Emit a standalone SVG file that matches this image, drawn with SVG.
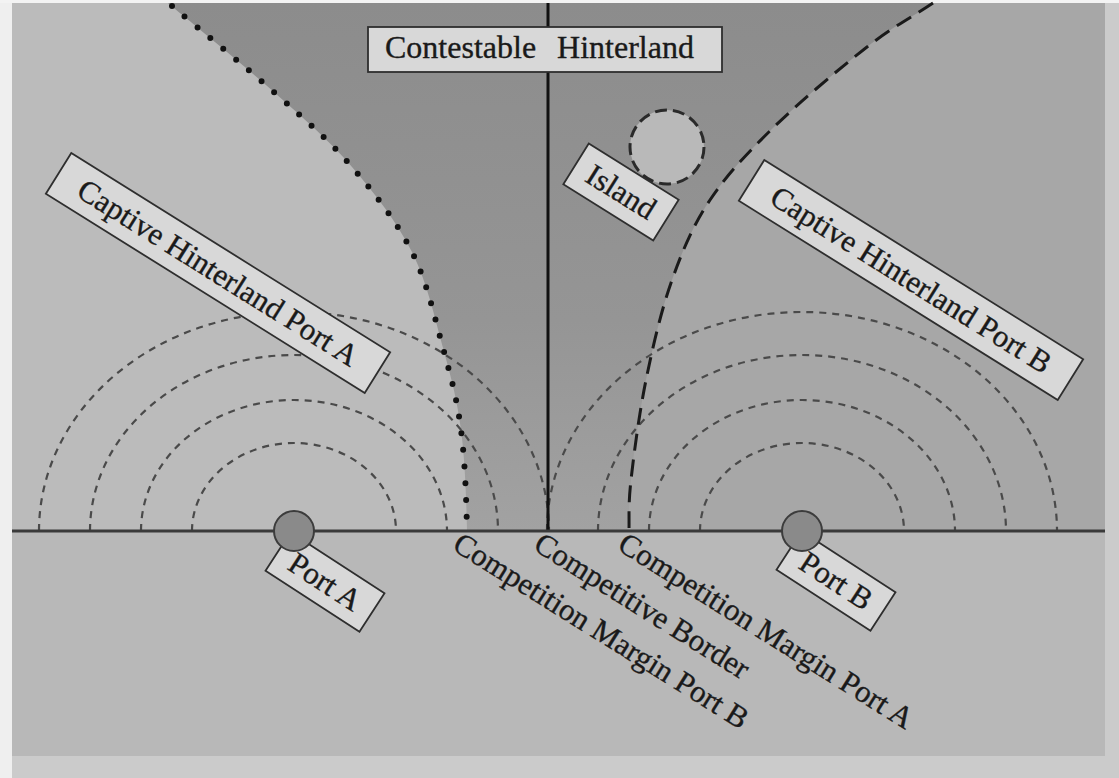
<svg xmlns="http://www.w3.org/2000/svg" width="1119" height="778" viewBox="0 0 1119 778">
<style>
.lbl{font-family:"Liberation Serif","Times New Roman",serif;font-size:31px;fill:#1a1a1a;stroke:#1a1a1a;stroke-width:0.35}
.box{fill:#d8d8d8;stroke:#2e2e2e;stroke-width:1.8}
.arc{fill:none;stroke:#4a4a4a;stroke-width:2.2;stroke-dasharray:7 6}
.port{fill:#8a8a8a;stroke:#3c3c3c;stroke-width:2}
</style>
<defs>
<linearGradient id="cg" x1="0" y1="0" x2="0" y2="1">
<stop offset="0" stop-color="#8c8c8c"/>
<stop offset="0.6" stop-color="#959595"/>
<stop offset="1" stop-color="#a2a2a2"/>
</linearGradient>
</defs>
<g id="background">
<rect x="0" y="0" width="1119" height="778" fill="#cbcbcb"/>
<rect x="0" y="0" width="12" height="778" fill="#efefef"/>
<rect x="0" y="0" width="1119" height="3" fill="#f3f3f3"/>
<rect x="12" y="3" width="1093" height="753" fill="#b8b8b8"/>
<rect x="12" y="3" width="536" height="528" fill="#bbbbbb"/>
<rect x="548" y="3" width="557" height="528" fill="#a7a7a7"/>
<path id="contestable" fill="url(#cg)" d="M168,3 C203.7,33 244.3,65.7 275,93 C305.7,120.3 329.2,140.5 352,167 C374.8,193.5 396.8,221.8 412,252 C427.2,282.2 434.8,318.3 443,348 C451.2,377.7 457,399.3 461,430 C465,460.7 466.3,498 467,531 L629,531 C629.3,514.7 628.2,505.3 631,480 C633.8,454.7 639.2,413.3 646,380 C652.8,346.7 661.3,310 672,280 C682.7,250 693,225.5 710,200 C727,174.5 747.8,152.5 774,127 C800.2,101.5 840.5,67.7 867,47 C893.5,26.3 911,17.7 933,3 Z"/>
</g>
<g id="connectors">
<g id="arcs-port-a">
<path class="arc" d="M192,531 A102,88 0 0 1 396,531"/>
<path class="arc" d="M141,531 A153,131 0 0 1 447,531"/>
<path class="arc" d="M90,531 A204,176 0 0 1 498,531"/>
<path class="arc" d="M39,531 A255,219 0 0 1 549,531"/>
</g>
<g id="arcs-port-b">
<path class="arc" d="M700,531 A102,88 0 0 1 904,531"/>
<path class="arc" d="M649,531 A153,131 0 0 1 955,531"/>
<path class="arc" d="M598,531 A204,176 0 0 1 1006,531"/>
<path class="arc" d="M547,531 A255,219 0 0 1 1057,531"/>
</g>
<path id="margin-port-b" fill="none" stroke="#111" stroke-width="6" stroke-linecap="round" stroke-dasharray="0 16.7" d="M172,6 C203.7,33 244.3,65.7 275,93 C305.7,120.3 329.2,140.5 352,167 C374.8,193.5 396.8,221.8 412,252 C427.2,282.2 434.8,318.3 443,348 C451.2,377.7 457,399.3 461,430 C465,460.7 466.3,498 467,531"/>
<path id="margin-port-a" fill="none" stroke="#1a1a1a" stroke-width="3" stroke-dasharray="17 9" d="M933,3 C911,17.7 893.5,26.3 867,47 C840.5,67.7 800.2,101.5 774,127 C747.8,152.5 727,174.5 710,200 C693,225.5 682.7,250 672,280 C661.3,310 652.8,346.7 646,380 C639.2,413.3 633.8,454.7 631,480 C628.2,505.3 629.3,514.7 629,531"/>
<line id="competitive-border" x1="548" y1="3" x2="548" y2="531" stroke="#111" stroke-width="3"/>
<line id="coast" x1="12" y1="531" x2="1105" y2="531" stroke="#3a3a3a" stroke-width="3"/>
</g>
<g id="island">
<circle cx="667" cy="147" r="37" fill="#b9b9b9" stroke="#2a2a2a" stroke-width="3" stroke-dasharray="12 6"/>
</g>
<g id="label-contestable">
<rect class="box" x="368" y="27" width="354" height="45"/>
<text class="lbl" x="385" y="58" style="font-size:32px" word-spacing="13">Contestable Hinterland</text>
</g>
<g id="label-captive-a" transform="translate(218,273) rotate(32)">
<rect class="box" x="-188" y="-24" width="376" height="48"/>
<text class="lbl" x="0" y="10" text-anchor="middle">Captive Hinterland Port A</text>
</g>
<g id="label-captive-b" transform="translate(911,280) rotate(32)">
<rect class="box" x="-188" y="-24" width="376" height="48"/>
<text class="lbl" x="0" y="10" text-anchor="middle">Captive Hinterland Port B</text>
</g>
<g id="label-island" transform="translate(621,192) rotate(32)">
<rect class="box" x="-53" y="-24" width="106" height="48"/>
<text class="lbl" x="0" y="10" text-anchor="middle">Island</text>
</g>
<g id="port-a">
<g transform="translate(325,582) rotate(33)">
<rect class="box" x="-56" y="-23" width="112" height="46"/>
<text class="lbl" x="0" y="10" text-anchor="middle">Port A</text>
</g>
<circle class="port" cx="294" cy="531" r="20"/>
</g>
<g id="port-b">
<g transform="translate(836,581) rotate(33)">
<rect class="box" x="-56" y="-23" width="112" height="46"/>
<text class="lbl" x="0" y="10" text-anchor="middle">Port B</text>
</g>
<circle class="port" cx="802" cy="531" r="20"/>
</g>
<g id="line-labels">
<text class="lbl" transform="translate(451,549) rotate(32)">Competition Margin Port B</text>
<text class="lbl" transform="translate(532,549) rotate(32)">Competitive Border</text>
<text class="lbl" transform="translate(616,549) rotate(32)">Competition Margin Port A</text>
</g>
</svg>
